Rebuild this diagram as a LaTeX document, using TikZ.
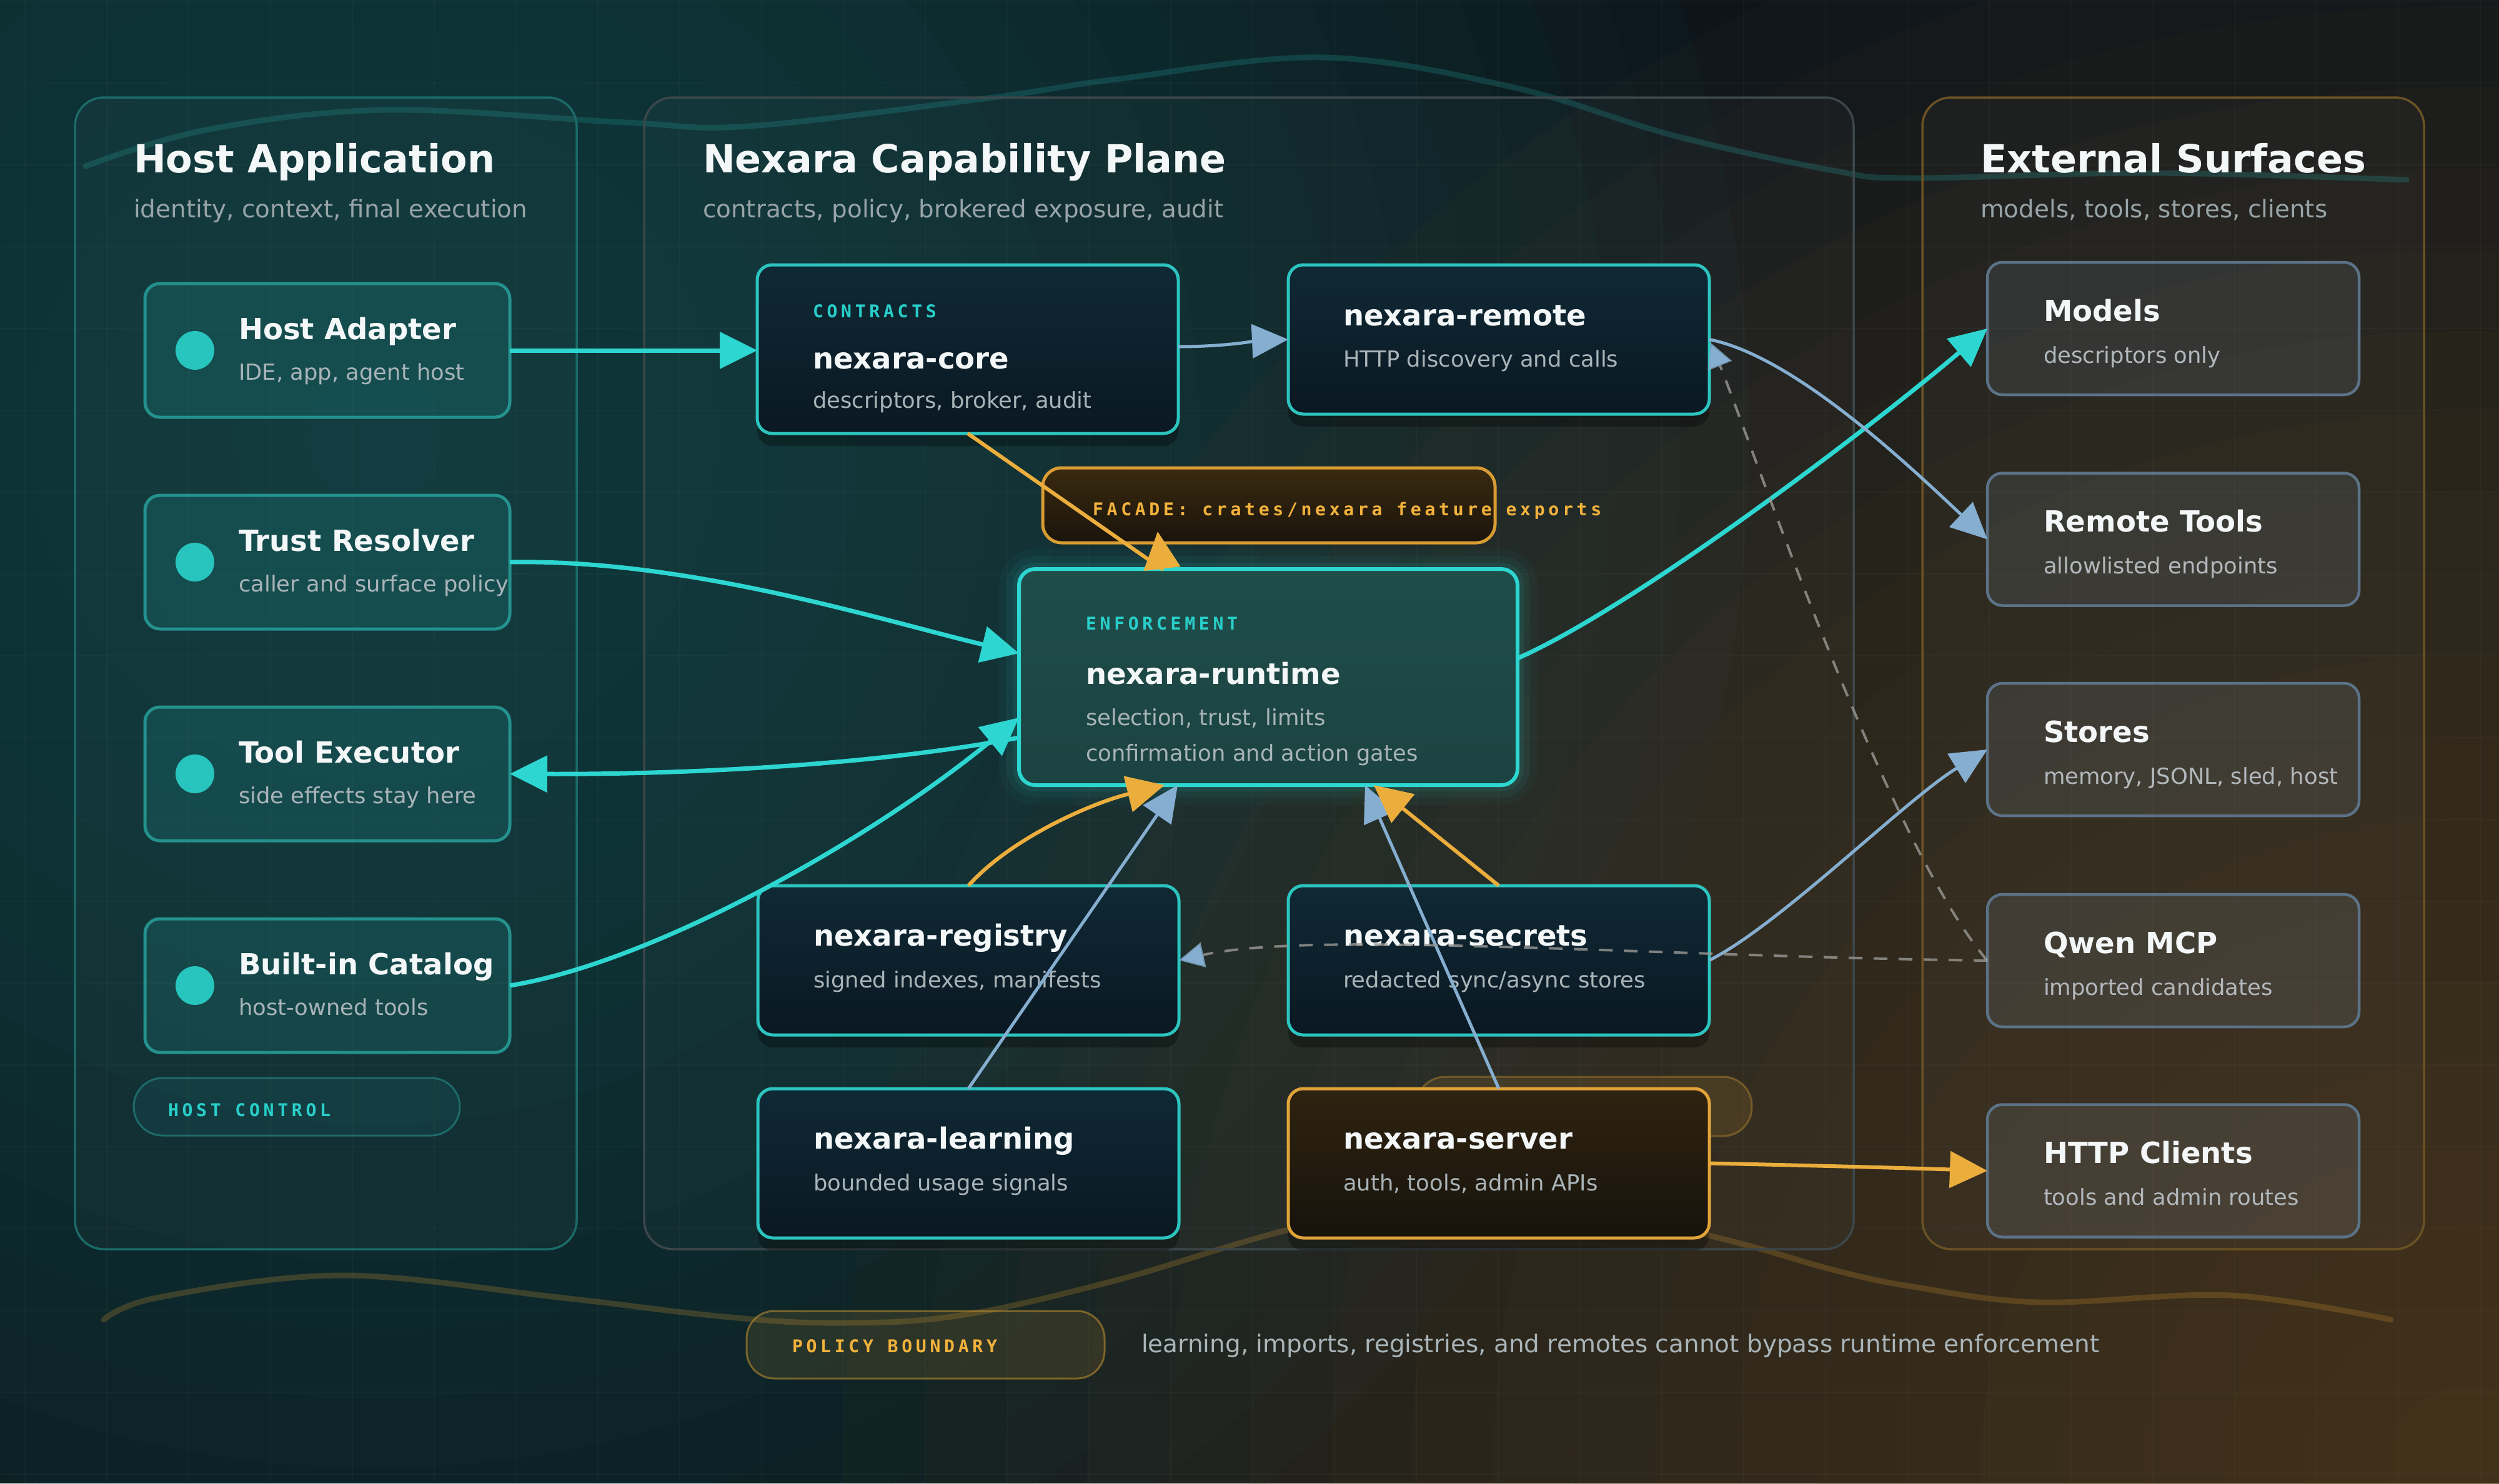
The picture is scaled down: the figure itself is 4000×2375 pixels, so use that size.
\documentclass[tikz,border=0pt]{standalone}
\usepackage{fontspec}
\setmainfont{DejaVu Sans}
\newfontfamily\tagfont[LetterSpace=20]{DejaVu Sans Mono}
\usetikzlibrary{arrows.meta,calc,shadows}

\definecolor{bgbase}{HTML}{0D151B}
\definecolor{tealglow}{HTML}{1D5758}
\definecolor{amberglow}{HTML}{5E4522}
\definecolor{tealA}{HTML}{2DD6D1}
\definecolor{blueA}{HTML}{85AED0}
\definecolor{amberA}{HTML}{EBAE3D}
\definecolor{dashC}{HTML}{9A9995}
\definecolor{titleC}{HTML}{F4F7F8}
\definecolor{subC}{HTML}{A9B4B8}
\definecolor{extSubC}{HTML}{B2B8BC}
\definecolor{panelSubC}{HTML}{98A4A8}
\definecolor{tagC}{HTML}{29CFCA}
\definecolor{facadeC}{HTML}{F2B23C}
\definecolor{decoT}{HTML}{1F8A86}
\definecolor{decoA}{HTML}{C48F2E}
\definecolor{leftBorder}{HTML}{1B6A68}
\definecolor{midBorder}{HTML}{3C474B}
\definecolor{rightBorder}{HTML}{6A5224}
\definecolor{hostBorder}{HTML}{24918D}
\definecolor{dotC}{HTML}{28C4BE}
\definecolor{planeBorder}{HTML}{2CC4BF}
\definecolor{navyA}{HTML}{0F2935}
\definecolor{navyB}{HTML}{0A1822}
\definecolor{rtA}{HTML}{1F4D4A}
\definecolor{rtB}{HTML}{1B4341}
\definecolor{serverA}{HTML}{2F2310}
\definecolor{serverB}{HTML}{17130C}
\definecolor{serverBorder}{HTML}{E0A33A}
\definecolor{facadeA}{HTML}{3A2A10}
\definecolor{facadeB}{HTML}{1A140B}
\definecolor{facadeBorder}{HTML}{D99C33}
\definecolor{extBorder}{HTML}{5B7287}
\definecolor{extFill}{HTML}{8FA6BD}
\definecolor{ctlBorder}{HTML}{1E6B6A}
\definecolor{pillAmberBorder}{HTML}{B58A2F}

\tikzset{
  gridline/.style={draw=white, draw opacity=0.022, line width=2pt},
  tealhalo/.style={fill=tealglow, fill opacity=0.05},
  amberhalo/.style={fill=amberglow, fill opacity=0.058},
  decoteal/.style={draw=decoT, draw opacity=0.3, line width=9pt, line cap=round},
  decoamber/.style={draw=decoA, draw opacity=0.26, line width=9pt, line cap=round},
  panelbox/.style={rectangle, rounded corners=46pt, line width=3.5pt, fill=white, fill opacity=0.025},
  hostbox/.style={rectangle, rounded corners=24pt, draw=hostBorder, line width=5pt, fill=tealA, fill opacity=0.12, minimum width=584pt, minimum height=214pt},
  hostdot/.style={circle, fill=dotC, minimum size=62pt},
  planebox/.style={rectangle, rounded corners=24pt, draw=planeBorder, line width=5pt, top color=navyA, bottom color=navyB, minimum width=674pt, drop shadow={shadow xshift=0pt, shadow yshift=-20pt, opacity=0.3, fill=black}},
  serverbox/.style={rectangle, rounded corners=24pt, draw=serverBorder, line width=5pt, top color=serverA, bottom color=serverB, minimum width=674pt, minimum height=239pt, drop shadow={shadow xshift=0pt, shadow yshift=-20pt, opacity=0.3, fill=black}},
  runtimebox/.style={rectangle, rounded corners=26pt, draw=tealA, line width=6pt, top color=rtA, bottom color=rtB, minimum width=798pt, minimum height=346pt,
     preaction={draw=tealA, draw opacity=0.04, line width=64pt},
     preaction={draw=tealA, draw opacity=0.06, line width=40pt},
     preaction={draw=tealA, draw opacity=0.09, line width=20pt}},
  extbox/.style={rectangle, rounded corners=24pt, draw=extBorder, line width=4.5pt, fill=extFill, fill opacity=0.13, minimum width=595pt, minimum height=212pt},
  facadepill/.style={rectangle, rounded corners=30pt, draw=facadeBorder, line width=5pt, top color=facadeA, bottom color=facadeB, minimum width=724pt, minimum height=120pt},
  ctlpill/.style={rectangle, rounded corners=46pt, draw=ctlBorder, line width=3pt, fill=tealA, fill opacity=0.07, minimum width=522pt, minimum height=92pt},
  ghostpill/.style={rectangle, rounded corners=46pt, draw=pillAmberBorder, draw opacity=0.45, line width=3pt, fill=amberA, fill opacity=0.12, minimum width=537pt, minimum height=95pt},
  policypill/.style={rectangle, rounded corners=44pt, draw=pillAmberBorder, draw opacity=0.6, line width=3pt, fill=amberA, fill opacity=0.12, minimum width=573pt, minimum height=108pt},
  ptitle/.style={anchor=base west, text=titleC, font=\fontsize{62}{70}\selectfont\bfseries},
  psub/.style={anchor=base west, text=panelSubC, font=\fontsize{38.9}{44}\selectfont},
  ntitle/.style={anchor=base west, text=titleC, font=\fontsize{46.6}{52}\selectfont\bfseries},
  nsub/.style={anchor=base west, text=subC, font=\fontsize{35.4}{40}\selectfont},
  esub/.style={anchor=base west, text=extSubC, font=\fontsize{35.4}{40}\selectfont},
  ntag/.style={anchor=base west, text=tagC, font=\tagfont\bfseries\fontsize{28.2}{32}\selectfont},
  ambertag/.style={anchor=base west, text=facadeC, font=\tagfont\bfseries\fontsize{28.2}{32}\selectfont},
  tealarrow/.style={draw=tealA, line width=7pt, -{Triangle[length=60pt,width=58pt]}},
  bluearrow/.style={draw=blueA, line width=5pt, -{Triangle[length=58pt,width=54pt]}},
  amberarrow/.style={draw=amberA, line width=6pt, -{Triangle[length=60pt,width=58pt]}},
  dasharrow/.style={draw=dashC, draw opacity=0.8, line width=4pt, dash pattern=on 22pt off 18pt, -{Triangle[length=40pt,width=40pt,color=blueA,fill=blueA]}}
}

\begin{document}
\begin{tikzpicture}[x=1pt,y=-1pt, every node/.style={inner sep=0pt,outer sep=0pt}]
\useasboundingbox (0,0) rectangle (4000,2375);
% background
\fill[bgbase] (0,0) rectangle (4000,2375);
\foreach \r in {1,...,20} {\fill[tealhalo] (600,700) circle ({\r*110pt});}
\foreach \r in {1,...,20} {\fill[amberhalo] (3950,2350) circle ({\r*130pt});}
\foreach \i in {0,...,18} {\draw[gridline] (0,\i*131+2) -- (4000,\i*131+2);}
\foreach \i in {0,...,30} {\draw[gridline] (\i*131+40,0) -- (\i*131+40,2375);}
% decorative waves
\draw[decoteal] plot[smooth, tension=0.6] coordinates {(137,266) (330,208) (617,176) (1000,196) (1199,202) (1582,157) (1786,127) (2117,92) (2423,140) (2679,217) (2934,273) (3061,285) (3444,277) (3852,288)};
\draw[decoamber] plot[smooth, tension=0.6] coordinates {(166,2113) (255,2077) (548,2042) (893,2077) (1148,2107) (1327,2118) (1531,2107) (1786,2050) (2066,1968) (2400,1900) (2755,1983) (2934,2033) (3061,2060) (3265,2085) (3571,2074) (3827,2113)};

% panels
\node[panelbox, draw=leftBorder, minimum width=803pt, minimum height=1844pt] (leftpanel) at (521.5,1078) {};
\node[panelbox, draw=midBorder, minimum width=1936pt, minimum height=1844pt] (midpanel) at (1999,1078) {};
\node[panelbox, draw=rightBorder, minimum width=803pt, minimum height=1844pt] (rightpanel) at (3478.5,1078) {};

\node[ptitle] (leftT) at ($(leftpanel.north west)+(94,120)$) {Host Application};
\node[psub] (leftS) at ($(leftpanel.north west)+(94,192)$) {identity, context, final execution};
\node[ptitle] (midT) at ($(midpanel.north west)+(94,120)$) {Nexara Capability Plane};
\node[psub] (midS) at ($(midpanel.north west)+(94,192)$) {contracts, policy, brokered exposure, audit};
\node[ptitle] (rightT) at ($(rightpanel.north west)+(93,120)$) {External Surfaces};
\node[psub] (rightS) at ($(rightpanel.north west)+(93,192)$) {models, tools, stores, clients};

% host nodes
\node[hostbox] (adapter) at (524,561) {};
\node[hostdot] (adapterD) at ($(adapter.west)+(80,0)$) {};
\node[ntitle] (adapterT) at ($(adapter.north west)+(150,89)$) {Host Adapter};
\node[nsub] (adapterS) at ($(adapter.north west)+(150,154)$) {IDE, app, agent host};

\node[hostbox] (trust) at (524,900) {};
\node[hostdot] (trustD) at ($(trust.west)+(80,0)$) {};
\node[ntitle] (trustT) at ($(trust.north west)+(150,89)$) {Trust Resolver};
\node[nsub] (trustS) at ($(trust.north west)+(150,154)$) {caller and surface policy};

\node[hostbox] (executor) at (524,1239) {};
\node[hostdot] (executorD) at ($(executor.west)+(80,0)$) {};
\node[ntitle] (executorT) at ($(executor.north west)+(150,89)$) {Tool Executor};
\node[nsub] (executorS) at ($(executor.north west)+(150,154)$) {side effects stay here};

\node[hostbox] (catalog) at (524,1578) {};
\node[hostdot] (catalogD) at ($(catalog.west)+(80,0)$) {};
\node[ntitle] (catalogT) at ($(catalog.north west)+(150,89)$) {Built-in Catalog};
\node[nsub] (catalogS) at ($(catalog.north west)+(150,154)$) {host-owned tools};

\node[ctlpill] (hostctl) at (475,1772) {};
\node[ntag] (hostctlT) at ($(hostctl.west)+(55,15)$) {HOST CONTROL};

% plane nodes
\node[planebox, minimum height=270pt] (core) at (1549,559) {};
\node[ntag] (coreG) at ($(core.north west)+(89,84)$) {CONTRACTS};
\node[ntitle] (coreT) at ($(core.north west)+(89,166)$) {nexara-core};
\node[nsub] (coreS) at ($(core.north west)+(89,229)$) {descriptors, broker, audit};

\node[planebox, minimum height=239pt] (remote) at (2399,543.5) {};
\node[ntitle] (remoteT) at ($(remote.north west)+(88,97)$) {nexara-remote};
\node[nsub] (remoteS) at ($(remote.north west)+(88,163)$) {HTTP discovery and calls};

\node[facadepill] (facade) at (2031,809) {};
\node[ambertag] (facadeT) at ($(facade.west)+(80,16)$) {FACADE: crates/nexara feature exports};

\node[runtimebox] (runtime) at (2030,1084) {};
\node[ntag] (runtimeG) at ($(runtime.north west)+(107,97)$) {ENFORCEMENT};
\node[ntitle] (runtimeT) at ($(runtime.north west)+(107,184)$) {nexara-runtime};
\node[nsub] (runtimeS) at ($(runtime.north west)+(107,250)$) {selection, trust, limits};
\node[nsub] (runtimeS2) at ($(runtime.north west)+(107,307)$) {confirmation and action gates};

\node[planebox, minimum height=239pt] (registry) at (1550,1537.5) {};
\node[ntitle] (registryT) at ($(registry.north west)+(89,96)$) {nexara-registry};
\node[nsub] (registryS) at ($(registry.north west)+(89,163)$) {signed indexes, manifests};

\node[planebox, minimum height=239pt] (secrets) at (2399,1537.5) {};
\node[ntitle] (secretsT) at ($(secrets.north west)+(88,96)$) {nexara-secrets};
\node[nsub] (secretsS) at ($(secrets.north west)+(88,163)$) {redacted sync/async stores};

\node[planebox, minimum height=239pt] (learning) at (1550,1862.5) {};
\node[ntitle] (learningT) at ($(learning.north west)+(89,96)$) {nexara-learning};
\node[nsub] (learningS) at ($(learning.north west)+(89,163)$) {bounded usage signals};

\node[ghostpill] (ghost) at (2535.5,1771.5) {};
\node[serverbox] (server) at (2399,1862.5) {};
\node[ntitle] (serverT) at ($(server.north west)+(88,96)$) {nexara-server};
\node[nsub] (serverS) at ($(server.north west)+(88,163)$) {auth, tools, admin APIs};

% external nodes
\node[extbox] (models) at (3478.5,526) {};
\node[ntitle] (modelsT) at ($(models.north west)+(90,94)$) {Models};
\node[esub] (modelsS) at ($(models.north west)+(90,161)$) {descriptors only};

\node[extbox] (rtools) at (3478.5,863.5) {};
\node[ntitle] (rtoolsT) at ($(rtools.north west)+(90,94)$) {Remote Tools};
\node[esub] (rtoolsS) at ($(rtools.north west)+(90,161)$) {allowlisted endpoints};

\node[extbox] (stores) at (3478.5,1200) {};
\node[ntitle] (storesT) at ($(stores.north west)+(90,94)$) {Stores};
\node[esub] (storesS) at ($(stores.north west)+(90,161)$) {memory, JSONL, sled, host};

\node[extbox] (qwen) at (3478.5,1538) {};
\node[ntitle] (qwenT) at ($(qwen.north west)+(90,94)$) {Qwen MCP};
\node[esub] (qwenS) at ($(qwen.north west)+(90,161)$) {imported candidates};

\node[extbox] (http) at (3478.5,1874.5) {};
\node[ntitle] (httpT) at ($(http.north west)+(90,94)$) {HTTP Clients};
\node[esub] (httpS) at ($(http.north west)+(90,161)$) {tools and admin routes};

% bottom note
\node[policypill] (policy) at (1481.5,2153) {};
\node[ambertag] (policyT) at ($(policy.west)+(73,12)$) {POLICY BOUNDARY};
\node[anchor=base west, text=subC, font=\fontsize{39}{44}\selectfont] (note) at ($(policy.east)+(59,12)$) {learning, imports, registries, and remotes cannot bypass runtime enforcement};

% connectors
\draw[tealarrow] (adapter.east) -- (core.west |- adapter.east);
\draw[tealarrow] (trust.east) .. controls (1100,895) and (1400,990) .. ($(runtime.west)+(0,-38)$);
\draw[tealarrow] ($(runtime.west)+(0,97)$) .. controls (1400,1225) and (1100,1240) .. (executor.east);
\draw[tealarrow] (catalog.east) .. controls (1050,1540) and (1400,1340) .. ($(runtime.west)+(0,65)$);
\draw[tealarrow] ($(runtime.east)+(0,-30)$) .. controls (2620,970) and (3000,680) .. (models.west);
\draw[bluearrow] ($(core.east)+(0,-4)$) .. controls (1960,555) and (2010,546) .. (remote.west);
\draw[bluearrow] (remote.east) .. controls (2870,570) and (3050,740) .. (rtools.west);
\draw[amberarrow, line join=round] (core.south) -- ($(runtime.north)+(-170,0)$) -- ($(runtime.north)+(-177,-60)$);
\draw[amberarrow] (registry.north) .. controls (1620,1340) and (1750,1285) .. ($(runtime.south)+(-166,0)$);
\draw[bluearrow] (learning.north) -- ($(runtime.south)+(-145,0)$);
\draw[bluearrow] (server.north) -- ($(runtime.south)+(155,0)$);
\draw[amberarrow] (secrets.north) -- ($(runtime.south)+(169,0)$);
\draw[bluearrow] (secrets.east) .. controls (2850,1480) and (3050,1280) .. (stores.west);
\draw[amberarrow] (server.east) .. controls (2900,1866) and (3050,1870) .. (http.west);
\draw[dasharrow] (qwen.west) .. controls (3020,1350) and (2800,700) .. ($(remote.east)+(2,5)$);
\draw[dasharrow] (qwen.west) .. controls (2600,1530) and (2100,1490) .. (registry.east);
\end{tikzpicture}
\end{document}
